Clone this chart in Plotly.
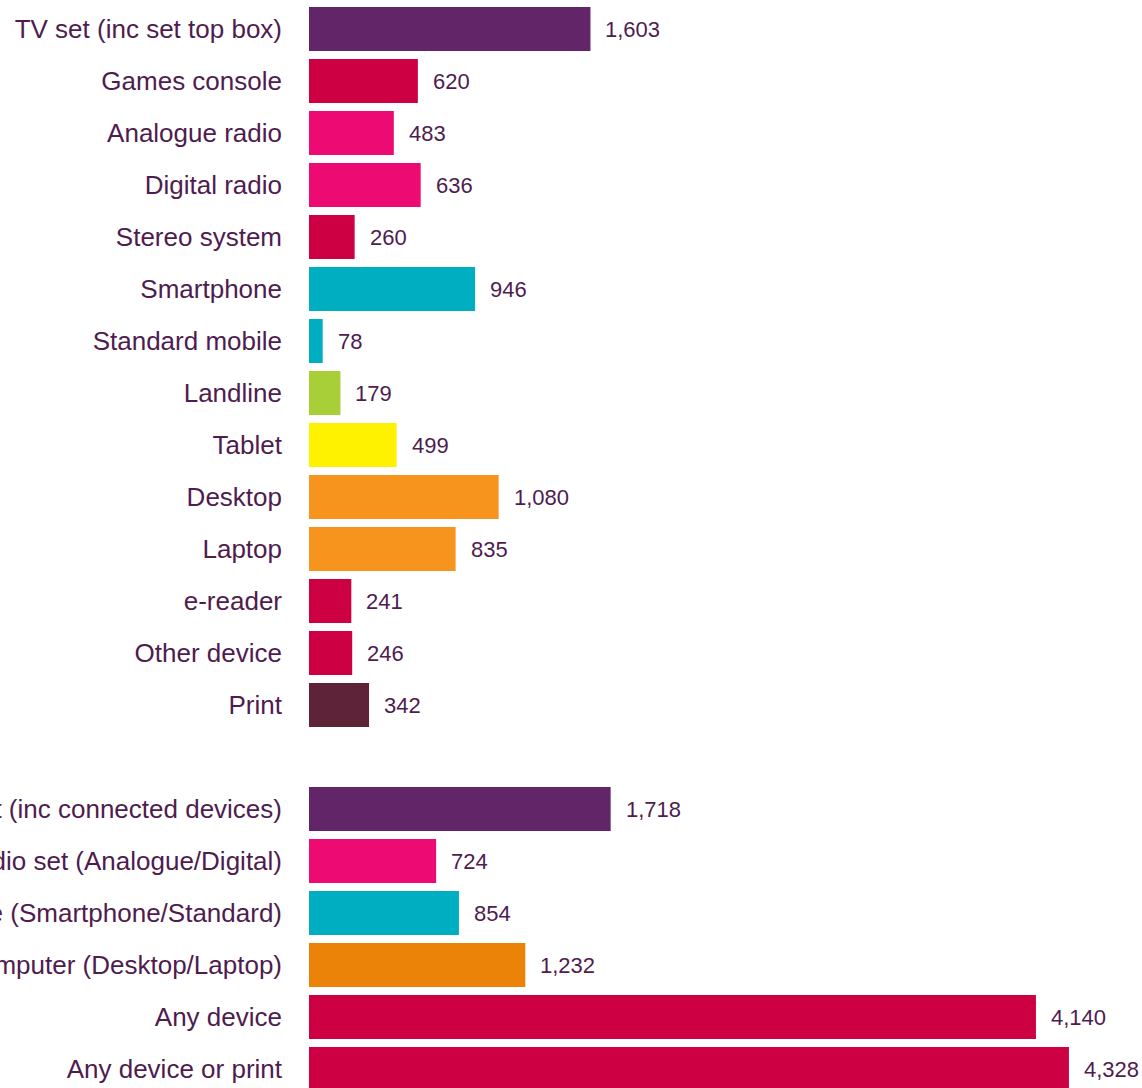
import plotly.graph_objects as go

categories = [
    "TV set (inc set top box)", "Games console", "Analogue radio", "Digital radio",
    "Stereo system", "Smartphone", "Standard mobile", "Landline", "Tablet",
    "Desktop", "Laptop", "e-reader", "Other device", "Print",
    " ",
    "Any TV set (inc connected devices)", "Any radio set (Analogue/Digital)",
    "Any mobile (Smartphone/Standard)", "Any computer (Desktop/Laptop)",
    "Any device", "Any device or print",
]
values = [1603, 620, 483, 636, 260, 946, 78, 179, 499, 1080, 835, 241, 246, 342,
          None,
          1718, 724, 854, 1232, 4140, 4328]
colors = ["#622567", "#CC0042", "#ED0A72", "#ED0A72", "#CC0042", "#00AEC1",
          "#00AEC1", "#A8CF38", "#FFF200", "#F7941E", "#F7941E", "#CC0042",
          "#CC0042", "#5F2339",
          "#FFFFFF",
          "#622567", "#ED0A72", "#00AEC1", "#EB8309", "#CC0042", "#CC0042"]

TEXT = "#4f1c4f"
FONT = "Liberation Sans, Arial, sans-serif"

bar_cats = [c for c, v in zip(categories, values) if v is not None]
bar_vals = [v for v in values if v is not None]
bar_cols = [c for c, v in zip(colors, values) if v is not None]

fig = go.Figure(go.Bar(
    x=bar_vals, y=bar_cats, orientation="h",
    marker=dict(color=bar_cols, line=dict(width=0)),
    hoverinfo="x+y",
))

annotations = [
    dict(x=v, y=c, text=f"{v:,}", xref="x", yref="y", xanchor="left",
         yanchor="middle", xshift=13, showarrow=False,
         font=dict(family=FONT, size=22, color=TEXT))
    for c, v in zip(bar_cats, bar_vals)
]

fig.update_layout(
    width=1142, height=1088,
    margin=dict(l=309, r=0, t=3, b=0, autoexpand=False),
    paper_bgcolor="white", plot_bgcolor="white",
    bargap=0.154,
    showlegend=False,
    annotations=annotations,
    font=dict(family=FONT, color=TEXT),
)
fig.update_xaxes(range=[0, 4744], visible=False, fixedrange=True)
fig.update_yaxes(
    type="category", categoryorder="array", categoryarray=categories,
    range=[20.365, -0.5], automargin=False, fixedrange=True,
    showgrid=False, zeroline=False, showline=False,
    ticks="", ticklabelstandoff=26,
    tickfont=dict(family=FONT, size=26, color=TEXT),
)

fig.write_html("out.html", config={"displayModeBar": False},
               post_script="document.body.style.margin='0px';")
